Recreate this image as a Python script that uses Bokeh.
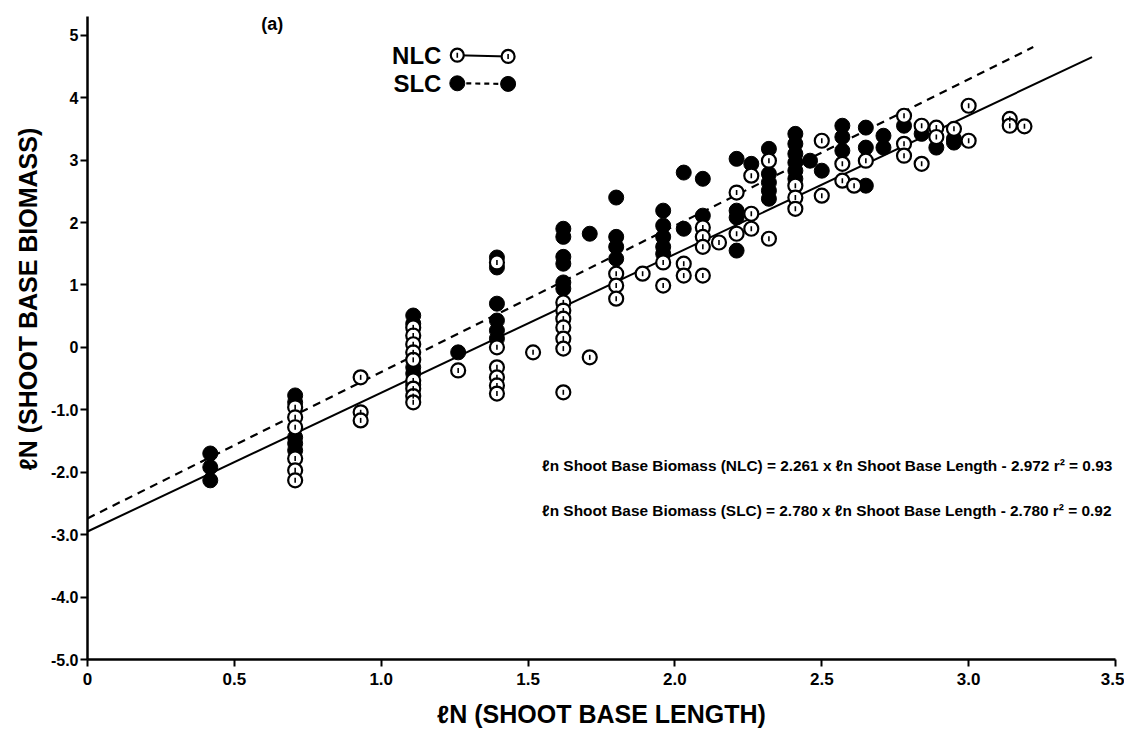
import math
from bokeh.plotting import figure
from bokeh.models import Label, FixedTicker
from bokeh.embed import file_html
from bokeh.resources import INLINE

# ---------------- data ----------------
nlc_x = [0.707]*6 + [0.93]*3 + [1.109]*9 + [1.262] + [1.394]*6 + [1.517] + [1.62]*7 + [1.71] \
    + [1.80]*3 + [1.89] + [1.96]*2 + [2.03]*2 + [2.095]*4 + [2.15] + [2.21]*2 + [2.26]*3 \
    + [2.32]*2 + [2.41]*3 + [2.50]*2 + [2.57]*2 + [2.61] + [2.65] + [2.78]*3 + [2.84]*2 \
    + [2.89]*2 + [2.95] + [3.00]*2 + [3.14]*2 + [3.19]
nlc_y = [-0.96, -1.12, -1.28, -1.78, -1.97, -2.13,
         -0.48, -1.04, -1.17,
         0.32, 0.19, 0.05, -0.08, -0.20, -0.53, -0.66, -0.78, -0.88,
         -0.37,
         1.36, 0.0, -0.32, -0.48, -0.61, -0.74,
         -0.08,
         0.72, 0.59, 0.46, 0.32, 0.14, -0.02, -0.72,
         -0.16,
         1.18, 0.99, 0.78,
         1.18,
         1.36, 0.99,
         1.34, 1.15,
         1.92, 1.77, 1.61, 1.15,
         1.68,
         2.48, 1.82,
         2.75, 2.14, 1.90,
         2.99, 1.74,
         2.59, 2.40, 2.22,
         3.31, 2.43,
         2.94, 2.67,
         2.59,
         2.99,
         3.71, 3.26, 3.07,
         3.55, 2.94,
         3.52, 3.37,
         3.50,
         3.87, 3.31,
         3.66, 3.55,
         3.54]

slc_x = [0.418]*3 + [0.707]*5 + [1.109]*5 + [1.262] + [1.394]*6 + [1.62]*6 + [1.71] + [1.80]*4 \
    + [1.96]*5 + [2.03]*2 + [2.095]*2 + [2.21]*4 + [2.26] + [2.32]*5 + [2.41]*6 + [2.46] + [2.50] \
    + [2.57]*3 + [2.65]*3 + [2.71]*2 + [2.78] + [2.84] + [2.89] + [2.95]*2
slc_y = [-1.70, -1.92, -2.13,
         -0.77, -0.88, -1.44, -1.54, -1.65,
         0.51, 0.38, -0.32, -0.42, -0.60,
         -0.08,
         1.44, 1.28, 0.70, 0.43, 0.27, 0.14,
         1.90, 1.77, 1.45, 1.34, 1.04, 0.94,
         1.82,
         2.40, 1.77, 1.61, 1.42,
         2.19, 1.95, 1.77, 1.61, 1.50,
         2.80, 1.90,
         2.70, 2.11,
         3.02, 2.19, 2.08, 1.55,
         2.94,
         3.18, 2.78, 2.64, 2.51, 2.38,
         3.42, 3.26, 3.10, 2.96, 2.83, 2.70,
         2.99,
         2.83,
         3.55, 3.37, 3.15,
         3.52, 3.20, 2.59,
         3.39, 3.20,
         3.55,
         3.42,
         3.20,
         3.34, 3.28]

# fitted lines as drawn
nlc_fit_x = [0.0, 3.42]
nlc_fit_y = [-2.95, 4.65]
slc_fit_x = [0.0, 3.22]
slc_fit_y = [-2.74, 4.81]

x_ticks = [0, 0.5, 1.0, 1.5, 2.0, 2.5, 3.0, 3.5]
x_tick_labels = ["0", "0.5", "1.0", "1.5", "2.0", "2.5", "3.0", "3.5"]
y_ticks = [5, 4, 3, 2, 1, 0, -1, -2, -3, -4, -5]
y_tick_labels = ["5", "4", "3", "2", "1", "0", "-1.0", "-2.0", "-3.0", "-4.0", "-5.0"]

eq_nlc = "\u2113n Shoot Base Biomass (NLC) = 2.261 x \u2113n Shoot Base Length - 2.972  r\u00b2 = 0.93"
eq_slc = "\u2113n Shoot Base Biomass (SLC) = 2.780 x \u2113n Shoot Base Length - 2.780  r\u00b2 = 0.92"

FONT = "Liberation Sans"

p = figure(width=1124, height=734, x_range=(0, 3.5), y_range=(-5, 5.3),
           output_backend="svg", toolbar_location=None,
           min_border_left=87, min_border_right=9, min_border_top=16, min_border_bottom=75)
p.outline_line_color = None
p.xgrid.visible = False
p.ygrid.visible = False
p.background_fill_color = "white"

# y-axis title (as a left title so it can sit off-centre like the original)
p.title_location = "left"
p.title.text = "\u2113N (SHOOT BASE BIOMASS)"
p.title.align = "left"
p.title.offset = 189
p.title.text_font = FONT
p.title.text_font_style = "bold"
p.title.text_font_size = "25px"
p.title.text_color = "black"
p.title.standoff = 11

# axes
for ax in (p.xaxis[0], p.yaxis[0]):
    ax.axis_line_width = 2.5
    ax.axis_line_color = "black"
    ax.major_tick_line_width = 2
    ax.major_tick_in = 0
    ax.major_tick_out = 7
    ax.minor_tick_line_color = None
    ax.major_label_text_font = FONT
    ax.major_label_text_font_style = "bold"
    ax.major_label_text_color = "black"

p.xaxis.ticker = FixedTicker(ticks=x_ticks)
p.xaxis.major_label_overrides = {t: l for t, l in zip(x_ticks, x_tick_labels)}
p.xaxis.major_label_text_font_size = "17px"
p.xaxis.major_label_standoff = 6
p.xaxis.axis_label = "\u2113N (SHOOT BASE LENGTH)"
p.xaxis.axis_label_text_font = FONT
p.xaxis.axis_label_text_font_style = "bold"
p.xaxis.axis_label_text_font_size = "25px"
p.xaxis.axis_label_text_color = "black"
p.xaxis.axis_label_standoff = 12

p.yaxis.ticker = FixedTicker(ticks=y_ticks)
p.yaxis.major_label_overrides = {t: l for t, l in zip(y_ticks, y_tick_labels)}
p.yaxis.major_label_text_font_size = "16px"
p.yaxis.major_label_standoff = 2

# fitted lines
p.line(nlc_fit_x, nlc_fit_y, line_color="black", line_width=2)
p.line(slc_fit_x, slc_fit_y, line_color="black", line_width=2.2, line_dash="8 6")

# points
p.scatter(slc_x, slc_y, marker="circle", size=15, fill_color="black", line_color="black")
p.scatter(nlc_x, nlc_y, marker="circle", size=14, fill_color="white", line_color="black", line_width=2.2)
p.scatter(nlc_x, nlc_y, marker="dash", angle=math.pi / 2, size=5, line_color="black", line_width=1.6)

# legend (drawn by hand)
leg_x = [1.259, 1.432]
p.line(leg_x, [4.68, 4.66], line_color="black", line_width=2)
p.scatter(leg_x, [4.68, 4.66], marker="circle", size=13, fill_color="white", line_color="black", line_width=2.2)
p.scatter(leg_x, [4.68, 4.66], marker="dash", angle=math.pi / 2, size=5, line_color="black", line_width=1.6)
p.line(leg_x, [4.23, 4.22], line_color="black", line_width=2.2, line_dash="5 4")
p.scatter(leg_x, [4.23, 4.22], marker="circle", size=15, fill_color="black", line_color="black")
for txt, yy in (("NLC", 4.68), ("SLC", 4.23)):
    p.add_layout(Label(x=1.205, y=yy, text=txt, text_align="right", text_baseline="middle",
                       text_font=FONT, text_font_style="bold", text_font_size="24px", text_color="black"))

# panel tag
p.add_layout(Label(x=0.629, y=5.18, text="(a)", text_align="center", text_baseline="middle",
                   text_font=FONT, text_font_style="bold", text_font_size="18px", text_color="black"))

# equations
for txt, yy in ((eq_nlc, -1.89), (eq_slc, -2.61)):
    p.add_layout(Label(x=1.548, y=yy, text=txt, text_align="left", text_baseline="middle",
                       text_font=FONT, text_font_style="bold", text_font_size="15.4px", text_color="black"))

open("out.html", "w").write(file_html(p, INLINE))
